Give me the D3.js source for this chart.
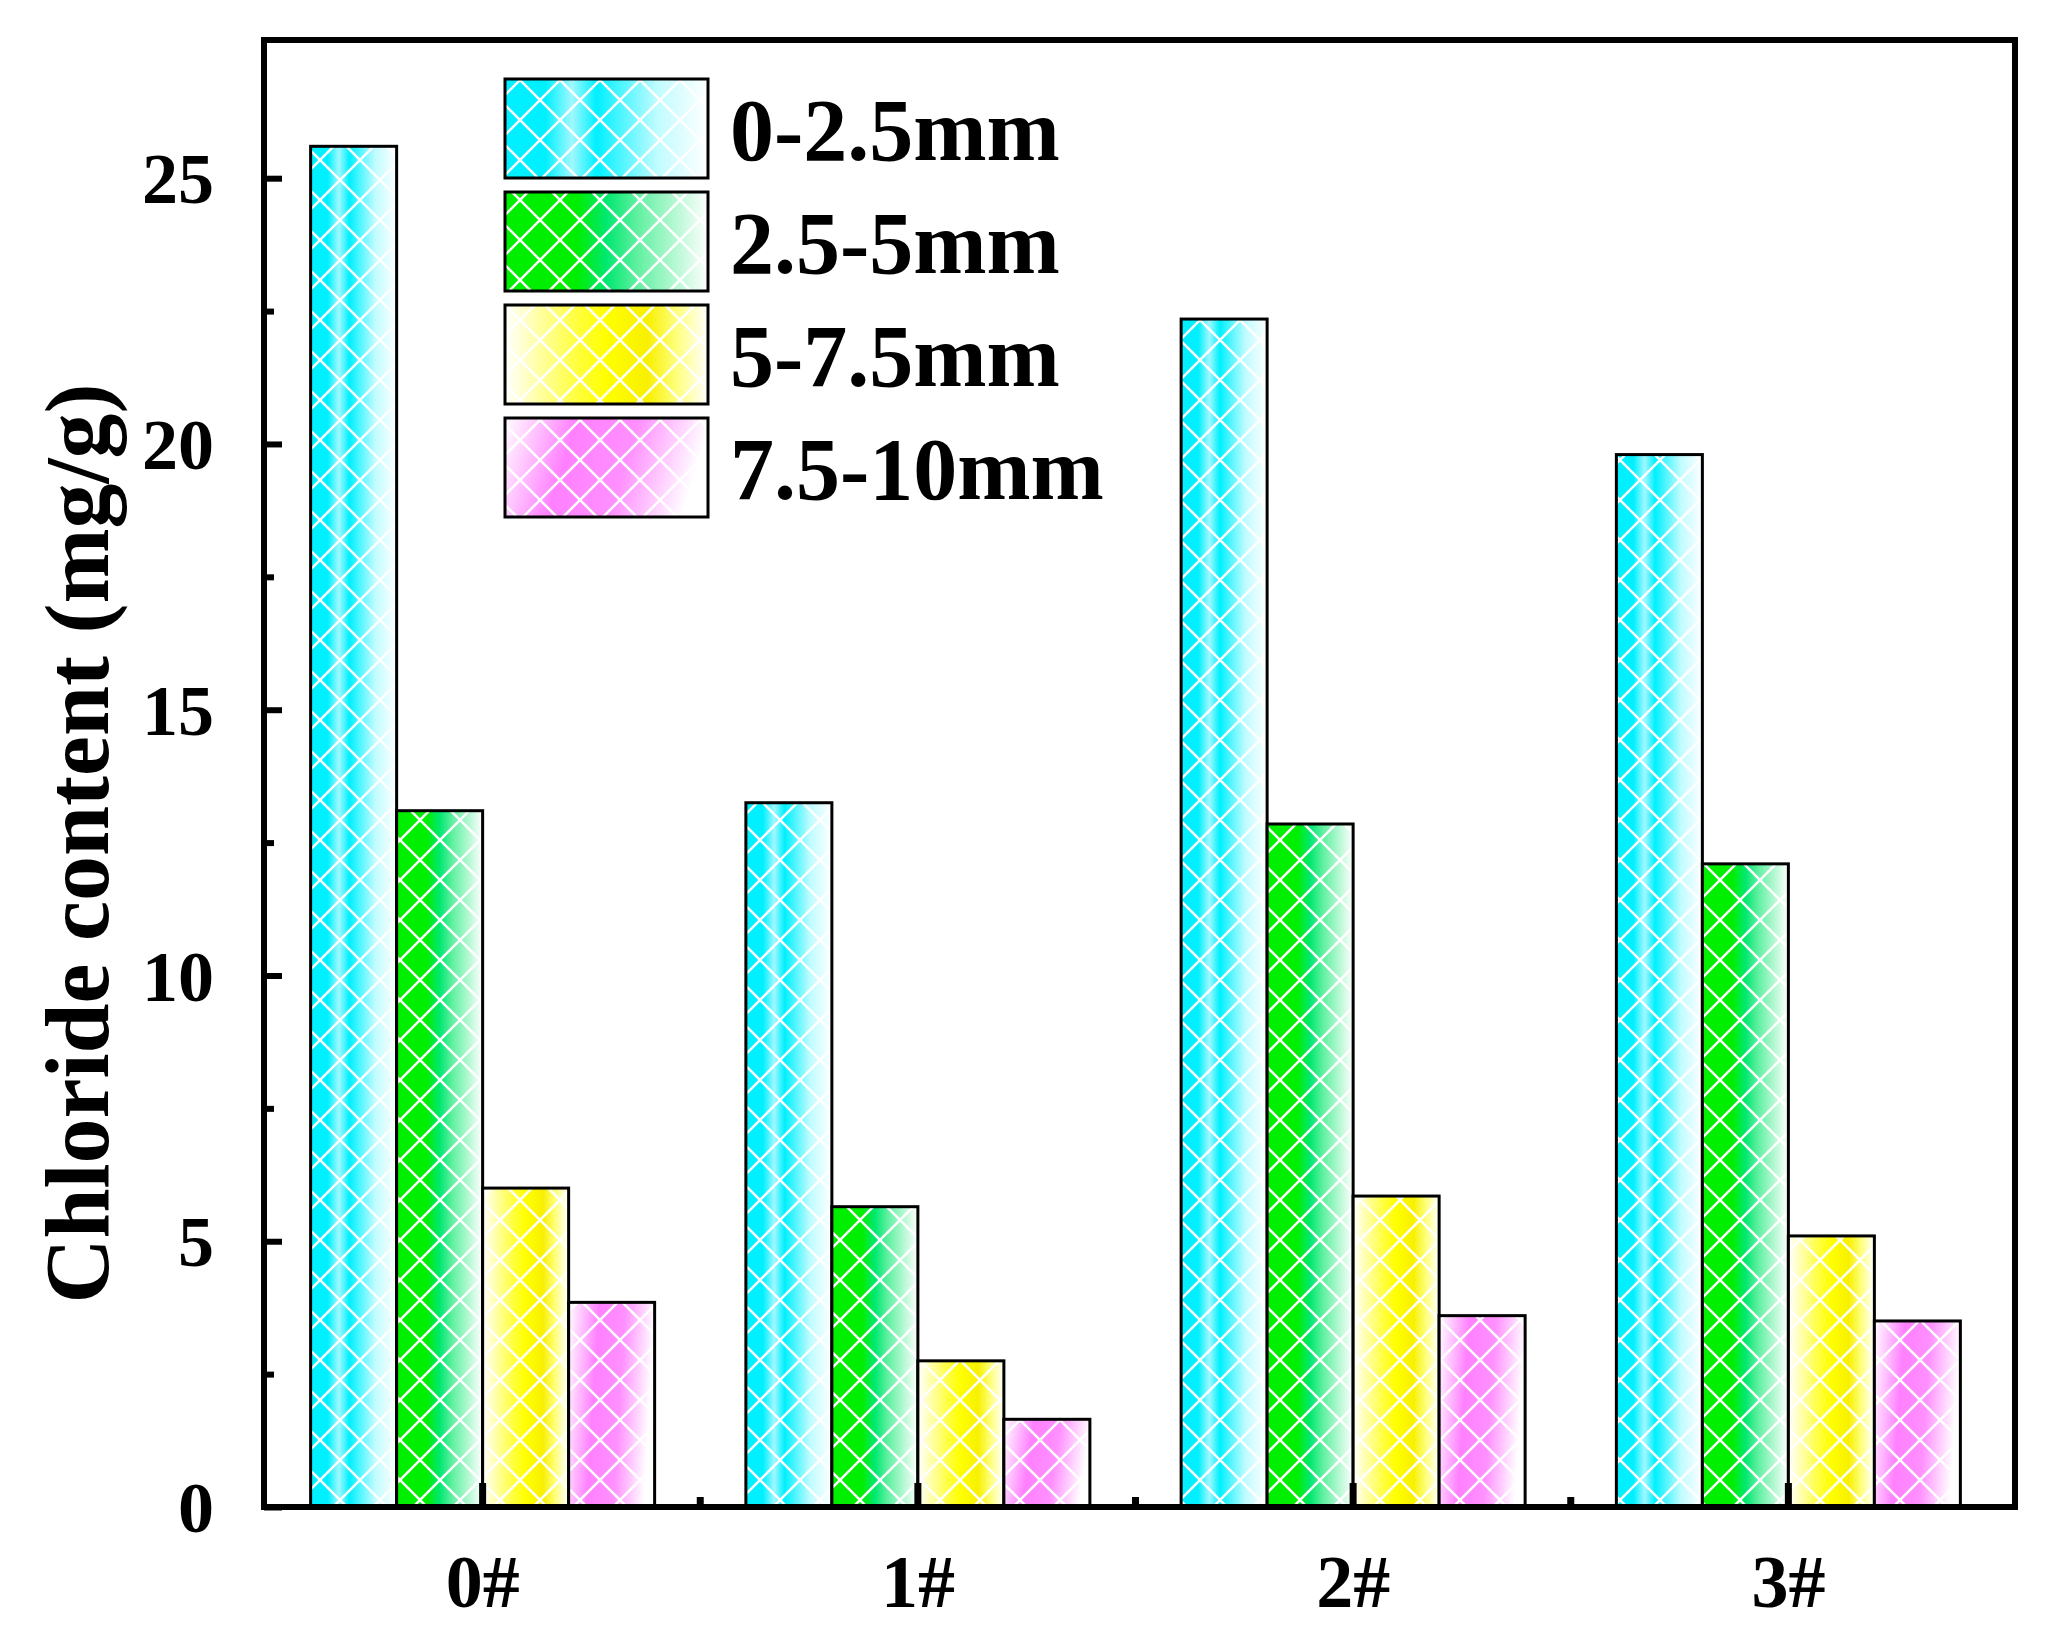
<!DOCTYPE html><html><head><meta charset="utf-8"><script src="https://d3js.org/d3.v7.min.js"></script>
<style>body{margin:0;background:#fff}</style></head><body><svg id="c" width="2056" height="1636"></svg>
<script>
const categories=["0#","1#","2#","3#"];
const seriesNames=["0-2.5mm","2.5-5mm","5-7.5mm","7.5-10mm"];
const s1=[25.6,13.25,22.35,19.8];
const s2=[13.1,5.65,12.85,12.1];
const s3=[6.0,2.75,5.85,5.1];
const s4=[3.85,1.65,3.6,3.5];
const series=[s1,s2,s3,s4];
const yTicks=[0,5,10,15,20,25];

const svg=d3.select("#c");
const L=264,R=2015,T=40,B=1507;
const x=d3.scaleBand().domain(categories).range([L+1,R-9]);
const y=d3.scaleLinear().domain([0,27.6]).range([B,T]);
const defs=svg.append("defs");
const gstops=[
 [[0,"#00f0ff"],[0.2,"#00f0ff"],[0.33,"#a0f8ff"],[0.45,"#00f0ff"],[0.75,"#c0fcff"],[1,"#ffffff"]],
 [[0,"#00ee00"],[0.35,"#00ee00"],[0.5,"#00e870"],[0.65,"#60f0a0"],[1,"#ffffff"]],
 [[0,"#ffffff"],[0.35,"#ffff40"],[0.5,"#ffff00"],[0.7,"#f8f000"],[0.85,"#ffff80"],[1,"#ffffff"]],
 [[0,"#ffffff"],[0.35,"#ff80ff"],[0.65,"#ff90ff"],[1,"#ffffff"]]
];
gstops.forEach((st,i)=>{
 const g=defs.append("linearGradient").attr("id","g"+i).attr("x1",0).attr("y1",0).attr("x2",1).attr("y2",i===3?0.15:0);
 st.forEach(s=>g.append("stop").attr("offset",s[0]).attr("stop-color",s[1]));
});
const p=defs.append("pattern").attr("id","hatch").attr("patternUnits","userSpaceOnUse").attr("width",40).attr("height",40);
p.append("path").attr("d","M0,0L40,40M40,0L0,40").attr("stroke","#fff").attr("stroke-width",2.5);

const bw=86;
categories.forEach((c,ci)=>{
 series.forEach((s,si)=>{
  const cx=x(c)+x.bandwidth()/2+(si-1.5)*bw;
  const x0=cx-bw/2;
  svg.append("rect").attr("x",x0).attr("y",y(s[ci])).attr("width",bw).attr("height",y(0)-y(s[ci])).attr("fill",`url(#g${si})`);
  svg.append("rect").attr("x",x0).attr("y",y(s[ci])).attr("width",bw).attr("height",y(0)-y(s[ci])).attr("fill","url(#hatch)").attr("stroke","#000").attr("stroke-width",3);
 });
});
svg.append("rect").attr("x",L).attr("y",T).attr("width",R-L).attr("height",B-T).attr("fill","none").attr("stroke","#000").attr("stroke-width",6);
const ya=svg.append("g").attr("transform",`translate(${L},0)`).call(d3.axisRight(y).tickValues(yTicks).tickSize(18).tickFormat(""));
ya.select(".domain").remove();ya.selectAll("line").attr("stroke-width",6);
const ym=svg.append("g").attr("transform",`translate(${L},0)`).call(d3.axisRight(y).tickValues([2.5,7.5,12.5,17.5,22.5]).tickSize(10).tickFormat(""));
ym.select(".domain").remove();ym.selectAll("line").attr("stroke-width",6);
yTicks.forEach(v=>svg.append("text").attr("x",L-50).attr("y",y(v)).attr("dy","0.35em").attr("text-anchor","end")
 .attr("font-family","Liberation Serif").attr("font-weight","bold").attr("font-size",72).text(v));
const xa=svg.append("g").attr("transform",`translate(0,${B})`).call(d3.axisTop(x).tickSize(24).tickFormat(""));
xa.select(".domain").remove();xa.selectAll("line").attr("stroke-width",7);
[1,2,3].forEach(i=>svg.append("line").attr("x1",x(categories[i])).attr("x2",x(categories[i])).attr("y1",B).attr("y2",B-10).attr("stroke","#000").attr("stroke-width",7));
categories.forEach(c=>svg.append("text").attr("x",x(c)+x.bandwidth()/2).attr("y",B+100).attr("text-anchor","middle")
 .attr("font-family","Liberation Serif").attr("font-weight","bold").attr("font-size",74).text(c));
svg.append("text").attr("transform",`translate(108,${(T+B)/2+70}) rotate(-90)`).attr("text-anchor","middle")
 .attr("font-family","Liberation Serif").attr("font-weight","bold").attr("font-size",90).text("Chloride content (mg/g)");
seriesNames.forEach((n,i)=>{
 const ly=79+i*113;
 svg.append("rect").attr("x",505).attr("y",ly).attr("width",203).attr("height",99).attr("fill",`url(#g${i})`);
 svg.append("rect").attr("x",505).attr("y",ly).attr("width",203).attr("height",99).attr("fill","url(#hatch)").attr("stroke","#000").attr("stroke-width",3);
 svg.append("text").attr("x",730).attr("y",ly+50).attr("dy","0.35em").attr("font-family","Liberation Serif").attr("font-weight","bold").attr("font-size",88).text(n);
});
</script></body></html>
